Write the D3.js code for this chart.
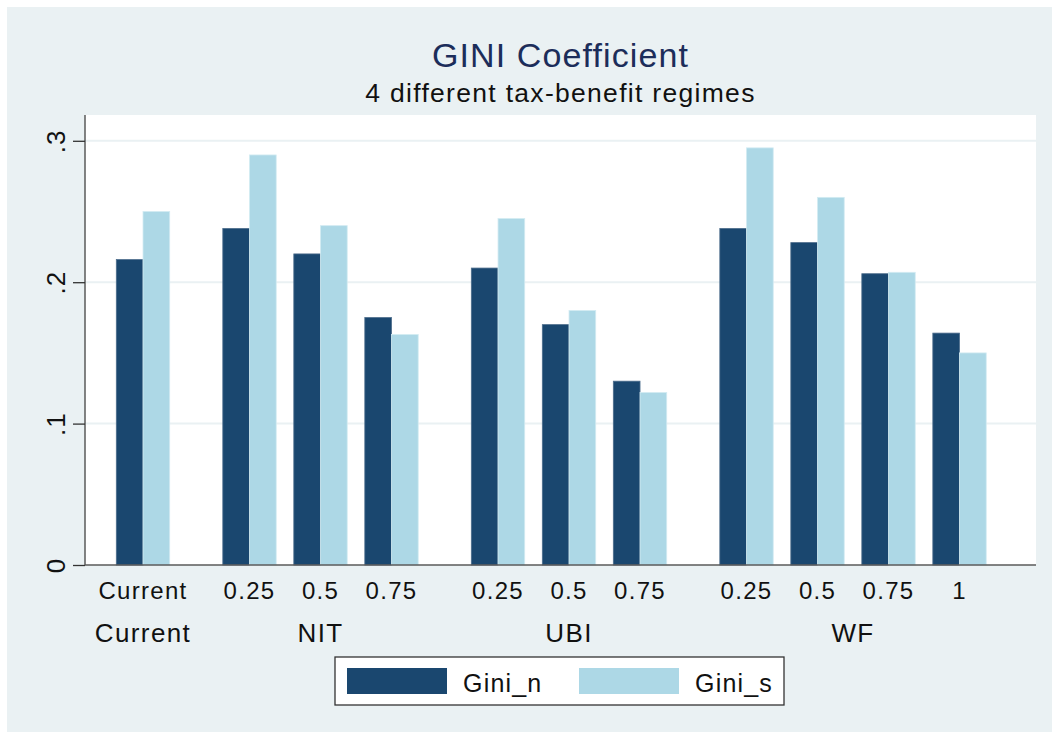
<!DOCTYPE html>
<html>
<head>
<meta charset="utf-8">
<script src="https://cdn.jsdelivr.net/npm/d3@7"></script>
<style>
  html, body { margin: 0; padding: 0; background: #ffffff; }
  svg { display: block; font-family: "Liberation Sans", Arial, Helvetica, sans-serif; }
</style>
</head>
<body>
<svg id="chart" width="1052" height="732"></svg>
<script>
// ---- data ----
const groups = ["Current", "NIT", "NIT", "NIT", "UBI", "UBI", "UBI", "WF", "WF", "WF", "WF"];
const levels = ["Current", "0.25", "0.5", "0.75", "0.25", "0.5", "0.75", "0.25", "0.5", "0.75", "1"];
const giniN = [0.216, 0.238, 0.220, 0.175, 0.210, 0.170, 0.130, 0.238, 0.228, 0.206, 0.164];
const giniS = [0.250, 0.290, 0.240, 0.163, 0.245, 0.180, 0.122, 0.295, 0.260, 0.207, 0.150];
const seriesNames = ["Gini_n", "Gini_s"];
const yTicks = [0, 0.1, 0.2, 0.3];
const yTickLabels = ["0", ".1", ".2", ".3"];
const titleText = "GINI Coefficient";
const subtitleText = "4 different tax-benefit regimes";

// ---- style ----
const colors = ["#1a476f", "#add8e6"];
const strokes = ["#4d6d8c", "#d3ebf2"];
const bgColor = "#eaf1f3";
const gridColor = "#eaf1f3";
const axisColor = "#5a5a5a";

const svg = d3.select("#chart");

// outer background
svg.append("rect").attr("x", 7).attr("y", 7).attr("width", 1045).attr("height", 725).attr("fill", bgColor);

// plot region
const plot = { left: 85, right: 1036, top: 115, bottom: 565 };
svg.append("rect").attr("x", plot.left).attr("y", plot.top)
  .attr("width", plot.right - plot.left).attr("height", plot.bottom - plot.top).attr("fill", "#ffffff");

// positions of the bar pairs (group gaps of half a slot)
const pos = [];
let p = 0;
groups.forEach((g, i) => {
  if (i > 0 && g !== groups[i - 1]) p += 0.5;
  if (i > 0) p += 1;
  pos.push(p);
});

const x = d3.scaleLinear().domain([-0.817, 12.577]).range([plot.left, plot.right]);
const y = d3.scaleLinear().domain([0, 0.3]).range([plot.bottom, plot.bottom - 0.3 * 1414]);
const barW = 26.7;

// gridlines
svg.append("g").selectAll("line").data(yTicks.filter(d => d > 0)).join("line")
  .attr("x1", plot.left).attr("x2", plot.right)
  .attr("y1", d => y(d)).attr("y2", d => y(d))
  .attr("stroke", gridColor).attr("stroke-width", 2);

// bars
const seriesVals = [giniN, giniS];
seriesVals.forEach((vals, s) => {
  svg.append("g").selectAll("rect").data(vals).join("rect")
    .attr("x", (d, i) => x(pos[i]) - barW + s * barW)
    .attr("y", d => y(d))
    .attr("width", barW)
    .attr("height", d => y(0) - y(d))
    .attr("fill", colors[s])
    .attr("stroke", strokes[s])
    .attr("stroke-width", 0.8);
});

// y axis
const yAxis = d3.axisLeft(y).tickValues(yTicks).tickFormat((d, i) => yTickLabels[i]).tickSize(12).tickPadding(6);
const yg = svg.append("g").attr("transform", `translate(${plot.left},0)`).call(yAxis);
yg.select(".domain").attr("stroke", axisColor).attr("stroke-width", 1.5).attr("d", `M0,${plot.top}V${plot.bottom}`);
yg.selectAll(".tick line").attr("stroke", "#333").attr("stroke-width", 1.3);
yg.selectAll(".tick text")
  .attr("font-size", 26).attr("fill", "#111")
  .attr("text-anchor", "middle")
  .attr("x", 0).attr("y", 0).attr("dy", 0)
  .attr("transform", "translate(-20,0) rotate(-90)")
  .style("letter-spacing", "1px");

// x axis line
svg.append("line").attr("x1", plot.left).attr("x2", plot.right)
  .attr("y1", plot.bottom).attr("y2", plot.bottom)
  .attr("stroke", axisColor).attr("stroke-width", 1.5);

// x tick labels (levels)
svg.append("g").selectAll("text").data(levels).join("text")
  .attr("x", (d, i) => x(pos[i]))
  .attr("y", 599)
  .attr("text-anchor", "middle")
  .attr("font-size", 24).attr("fill", "#111")
  .style("letter-spacing", "1.3px")
  .text(d => d);

// group labels
const groupNames = Array.from(new Set(groups));
const groupCenters = groupNames.map(g => {
  const ps = pos.filter((q, i) => groups[i] === g);
  return (d3.min(ps) + d3.max(ps)) / 2;
});
svg.append("g").selectAll("text").data(groupNames).join("text")
  .attr("x", (d, i) => x(groupCenters[i]))
  .attr("y", 642)
  .attr("text-anchor", "middle")
  .attr("font-size", 26).attr("fill", "#111")
  .style("letter-spacing", "1.4px")
  .text(d => d);

// titles
svg.append("text").attr("x", (plot.left + plot.right) / 2).attr("y", 67)
  .attr("text-anchor", "middle").attr("font-size", 34).attr("fill", "#1c2d5a")
  .style("letter-spacing", "1.1px")
  .text(titleText);
svg.append("text").attr("x", (plot.left + plot.right) / 2).attr("y", 102)
  .attr("text-anchor", "middle").attr("font-size", 26.5).attr("fill", "#111")
  .style("letter-spacing", "1.3px")
  .text(subtitleText);

// legend
const lg = svg.append("g");
lg.append("rect").attr("x", 335).attr("y", 657).attr("width", 449).attr("height", 48)
  .attr("fill", "#fff").attr("stroke", "#333").attr("stroke-width", 1.3);
const legX = [347, 579];
seriesNames.forEach((n, s) => {
  lg.append("rect").attr("x", legX[s]).attr("y", 668).attr("width", 100).attr("height", 26)
    .attr("fill", colors[s]);
  lg.append("text").attr("x", legX[s] + 116).attr("y", 692)
    .attr("font-size", 25).attr("fill", "#111")
    .style("letter-spacing", "1.2px")
    .text(n);
});
</script>
</body>
</html>
